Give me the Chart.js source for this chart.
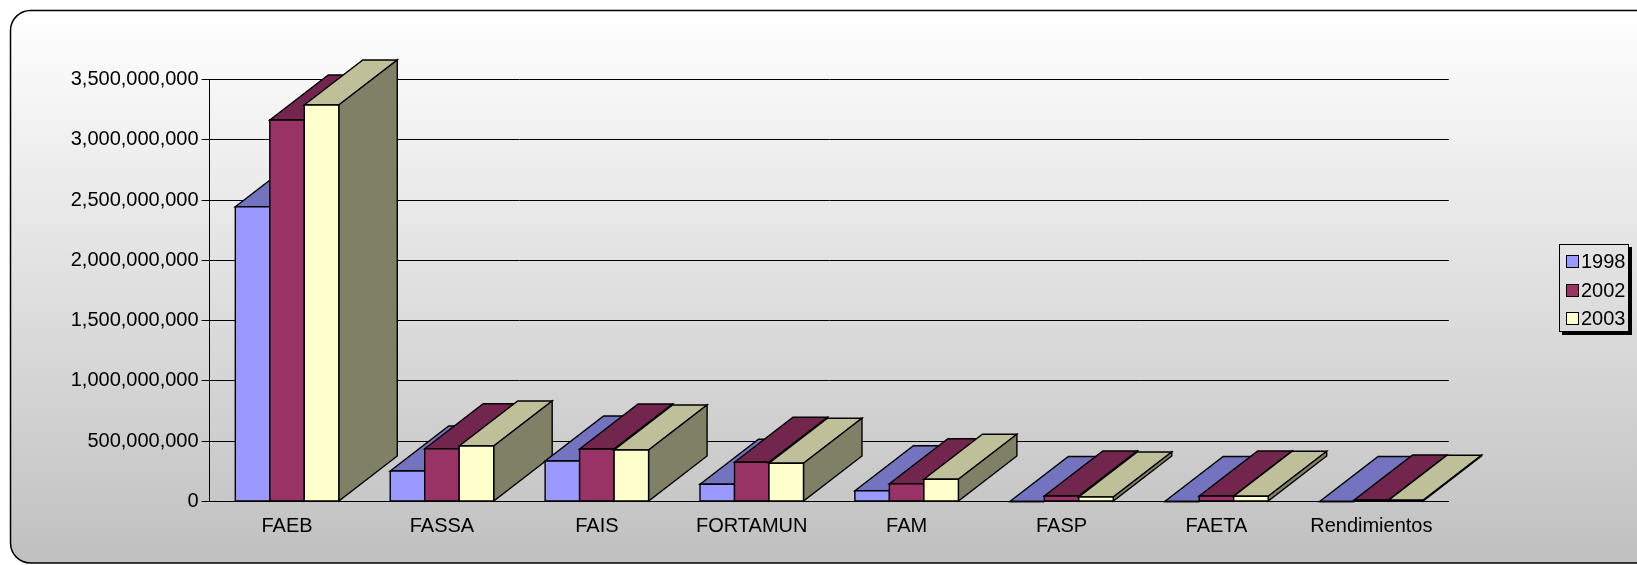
<!DOCTYPE html>
<html>
<head>
<meta charset="utf-8">
<script src="https://cdn.jsdelivr.net/npm/chart.js@4/dist/chart.umd.min.js"></script>
<style>
html, body { margin: 0; padding: 0; background: #ffffff; }
#wrap { position: relative; width: 1637px; height: 565px; overflow: hidden; }
#c { display: block; }
#legend {
  position: absolute; left: 1559px; top: 244px; width: 70px; height: 88px;
  box-sizing: border-box; border: 1px solid #000; box-shadow: 3px 3px 0 #000;
  padding: 2.5px 0 0 6px; font: 20px "Liberation Sans", Arial, sans-serif; color: #000;
}
#legend .item { display: flex; align-items: center; height: 28.5px; white-space: nowrap; }
#legend .sw { width: 11px; height: 11px; border: 1px solid #000; margin-right: 2px; flex: none; }
</style>
</head>
<body>
<div id="wrap">
  <canvas id="c" width="1637" height="565"></canvas>
  <div id="legend"></div>
</div>
<script>
// ---- data ----
const categories = ['FAEB', 'FASSA', 'FAIS', 'FORTAMUN', 'FAM', 'FASP', 'FAETA', 'Rendimientos'];
const seriesLabels = ['1998', '2002', '2003'];
const values1998 = [2445000000, 253000000, 336000000, 143000000, 89000000, 0, 0, 0];
const values2002 = [3164000000, 438000000, 435000000, 325000000, 147000000, 46000000, 46000000, 12000000];
const values2003 = [3289000000, 460000000, 427000000, 317000000, 184000000, 37000000, 43000000, 10000000];
const yTickValues = [0, 500000000, 1000000000, 1500000000, 2000000000, 2500000000, 3000000000, 3500000000];

// ---- styles ----
const frontColors = ['#9999FF', '#993366', '#FFFFCC'];
const topColors   = ['#7373BF', '#73264D', '#BFBF99'];
const sideColors  = ['#4D4D80', '#4D1A33', '#808066'];
const FONT = '"Liberation Sans", Arial, sans-serif';
const DEPTH_X = 58.5, DEPTH_Y = -45;

const seriesValues = [values1998, values2002, values2003];

const bar3d = {
  id: 'bar3d',
  beforeDraw(chart) {
    const ctx = chart.ctx;
    const x = 10.5, y = 10.5, w = 1700, h = 552.5, r = 20;
    ctx.save();
    const g = ctx.createLinearGradient(0, y, 0, y + h);
    g.addColorStop(0, '#ffffff');
    g.addColorStop(1, '#c0c0c0');
    ctx.beginPath();
    ctx.moveTo(x + r, y);
    ctx.lineTo(x + w - r, y);
    ctx.arcTo(x + w, y, x + w, y + r, r);
    ctx.lineTo(x + w, y + h - r);
    ctx.arcTo(x + w, y + h, x + w - r, y + h, r);
    ctx.lineTo(x + r, y + h);
    ctx.arcTo(x, y + h, x, y + h - r, r);
    ctx.lineTo(x, y + r);
    ctx.arcTo(x, y, x + r, y, r);
    ctx.closePath();
    ctx.fillStyle = g;
    ctx.fill();
    ctx.lineWidth = 1.5;
    ctx.strokeStyle = '#000';
    ctx.stroke();
    ctx.restore();
  },
  afterDatasetsDraw(chart) {
    const ctx = chart.ctx;
    const n = chart.data.labels.length;
    const dsCount = chart.data.datasets.length;
    ctx.save();
    ctx.lineJoin = 'miter';
    ctx.lineWidth = 1.4;
    ctx.strokeStyle = '#000';
    const poly = (pts, fill) => {
      ctx.beginPath();
      ctx.moveTo(pts[0][0], pts[0][1]);
      for (let k = 1; k < pts.length; k++) ctx.lineTo(pts[k][0], pts[k][1]);
      ctx.closePath();
      ctx.fillStyle = fill;
      ctx.fill();
      ctx.stroke();
    };
    for (let j = 0; j < n; j++) {
      for (let i = 0; i < dsCount; i++) {
        const el = chart.getDatasetMeta(i).data[j];
        const p = el.getProps(['x', 'y', 'base', 'width'], true);
        const l = p.x - p.width / 2, r = p.x + p.width / 2;
        const top = Math.min(p.y, p.base), bot = Math.max(p.y, p.base);
        poly([[l, top], [r, top], [r + DEPTH_X, top + DEPTH_Y], [l + DEPTH_X, top + DEPTH_Y]], topColors[i]);
        poly([[r, top], [r + DEPTH_X, top + DEPTH_Y], [r + DEPTH_X, bot + DEPTH_Y], [r, bot]], sideColors[i]);
        poly([[l, top], [r, top], [r, bot], [l, bot]], frontColors[i]);
      }
    }
    ctx.restore();
  }
};

const chart = new Chart(document.getElementById('c'), {
  type: 'bar',
  data: {
    labels: categories,
    datasets: seriesLabels.map((lab, i) => ({
      label: lab,
      data: seriesValues[i],
      backgroundColor: frontColors[i],
      borderWidth: 0
    }))
  },
  options: {
    responsive: false,
    animation: false,
    devicePixelRatio: 1,
    layout: { padding: { top: 79.5, right: 188.2, bottom: 0, left: 0 } },
    datasets: { bar: { categoryPercentage: 0.668, barPercentage: 1 } },
    plugins: { legend: { display: false }, tooltip: { enabled: false } },
    scales: {
      x: {
        grid: { display: false, drawTicks: false },
        border: { display: true, color: '#000', width: 1 },
        ticks: { padding: 13, color: '#000', font: { family: FONT, size: 20 }, maxRotation: 0, autoSkip: false },
        afterFit(s) { s.height = 63.5; }
      },
      y: {
        min: 0, max: 3500000000,
        afterBuildTicks(s) { s.ticks = yTickValues.map(v => ({ value: v })); },
        ticks: { color: '#000', padding: 3, font: { family: FONT, size: 20 },
                 callback: v => Number(v).toLocaleString('en-US') },
        grid: { color: '#000', lineWidth: 1, tickLength: 8, drawTicks: true },
        border: { display: true, color: '#000', width: 1 },
        afterFit(s) { s.width = 209.6; }
      }
    }
  },
  plugins: [bar3d]
});

// legend (HTML)
const legendEl = document.getElementById('legend');
seriesLabels.forEach((lab, i) => {
  const item = document.createElement('div');
  item.className = 'item';
  const sw = document.createElement('span');
  sw.className = 'sw';
  sw.style.background = frontColors[i];
  const tx = document.createElement('span');
  tx.textContent = lab;
  item.appendChild(sw);
  item.appendChild(tx);
  legendEl.appendChild(item);
});
</script>
</body>
</html>
